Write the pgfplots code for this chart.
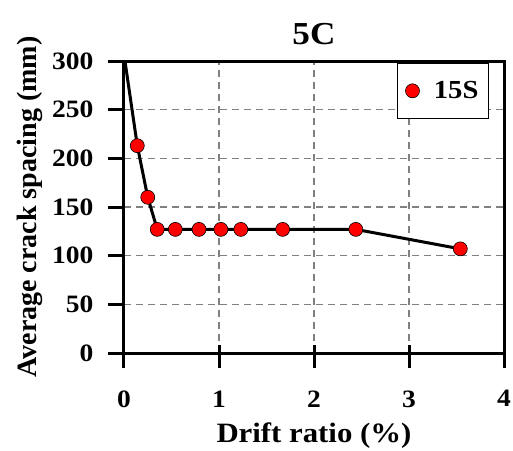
\documentclass[border=0pt]{standalone}
\usepackage{fontspec}
\setmainfont{Liberation Serif}
\newfontfamily\wide[FakeStretch=1.1]{Liberation Serif}
\usepackage{pgfplots}
\pgfplotsset{compat=1.18}
\begin{document}
\begin{tikzpicture}
  \begin{axis}[
    scale only axis, width=380pt, height=292pt,
    xmin=0, xmax=4, ymin=0, ymax=300,
    xtick={0,1,2,3,4}, ytick={0,50,100,150,200,250,300},
    /pgf/number format/assume math mode=true,
    tick label style={font=\fontsize{25}{27}\selectfont\wide\bfseries},
    xticklabel style={yshift=-34pt},
    yticklabel style={xshift=-27pt},
    xlabel style={font=\fontsize{28}{30}\selectfont\wide\bfseries, yshift=-9pt},
    ylabel style={font=\fontsize{28}{30}\selectfont\bfseries, yshift=3pt},
    title style={font=\fontsize{32}{34}\selectfont\wide\bfseries, yshift=7pt},
    title={5C},
    xlabel={Drift ratio (\%)},
    ylabel={Average crack spacing (mm)},
    axis line style={line width=3pt},
    major tick length=0pt,
    xtick pos=left, ytick pos=left,
    grid=major, grid style={gray, line width=1.6pt, dash pattern=on 7pt off 5pt},
    legend style={at={(0.96,0.993)}, anchor=north east, draw=black, line width=0.8pt,
      font=\fontsize{26}{28}\selectfont\wide\bfseries, inner xsep=8pt, inner ysep=16pt,
      nodes={inner sep=2pt}},
    legend image code/.code={\draw[#1] plot coordinates {(0pt,0pt)}; \path (-7pt,0pt) (19pt,0pt);},
    legend cell align=left,
    clip=false,
  ]
    \addplot[black, line width=3pt, forget plot]
      coordinates {(0.01,300)(0.14,213)(0.25,160)(0.35,127)(0.54,127)(0.79,127)(1.02,127)(1.23,127)(1.67,127)(2.44,127)(3.54,107)};
    \addplot[only marks, mark=*, mark size=7pt, mark options={fill=red, draw=black, line width=0.6pt}]
      coordinates {(0.14,213)(0.25,160)(0.35,127)(0.54,127)(0.79,127)(1.02,127)(1.23,127)(1.67,127)(2.44,127)(3.54,107)};
    \addlegendentry{15S}
    % tick marks, drawn between axis-cs end points
    \draw[line width=3pt, black] (axis cs:0,8) -- (axis cs:0,-15);
    \draw[line width=3pt, black] (axis cs:1,8) -- (axis cs:1,-15);
    \draw[line width=3pt, black] (axis cs:2,8) -- (axis cs:2,-15);
    \draw[line width=3pt, black] (axis cs:3,8) -- (axis cs:3,-15);
    \draw[line width=3pt, black] (axis cs:4,8) -- (axis cs:4,-15);
    \draw[line width=3pt, black] (axis cs:-0.17,0) -- (axis cs:0,0);
    \draw[line width=3pt, black] (axis cs:-0.17,50) -- (axis cs:0,50);
    \draw[line width=3pt, black] (axis cs:-0.17,100) -- (axis cs:0,100);
    \draw[line width=3pt, black] (axis cs:-0.17,150) -- (axis cs:0,150);
    \draw[line width=3pt, black] (axis cs:-0.17,200) -- (axis cs:0,200);
    \draw[line width=3pt, black] (axis cs:-0.17,250) -- (axis cs:0,250);
    \draw[line width=3pt, black] (axis cs:-0.17,300) -- (axis cs:0,300);
  \end{axis}
  \pgfresetboundingbox
  \path (current axis.south west) ++(-124pt,-97pt) rectangle ++(513pt,450pt);
\end{tikzpicture}
\end{document}
